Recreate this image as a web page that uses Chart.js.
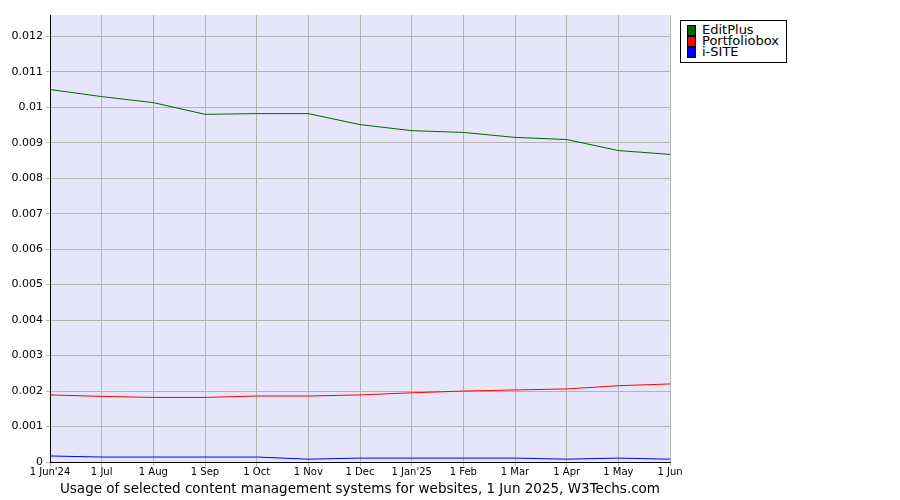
<!DOCTYPE html>
<html><head><meta charset="utf-8">
<script src="https://cdn.jsdelivr.net/npm/chart.js@4"></script>
<style>
body{margin:0;width:900px;height:500px;background:#fff;font-family:"DejaVu Sans",sans-serif;position:relative;overflow:hidden}
#wrap{position:absolute;left:0;top:0;width:900px;height:500px}
#legend{position:absolute;left:680px;top:20px;width:107px;height:43px;border:1px solid #000;background:#fff;font-size:13px;line-height:11px}
#legend div{position:relative;padding-left:21px;height:11px;margin-top:0}
#legend span{position:absolute;left:6px;top:1px;width:7px;height:9px;border:1px solid #000}
#cap{position:absolute;left:0;width:720px;top:480px;text-align:center;font-size:13.5px}
</style></head><body>
<div id="wrap"><canvas id="c" width="900" height="500"></canvas></div>
<div id="legend" style="padding-top:3px;box-sizing:border-box">
<div><span style="background:#006400"></span>EditPlus</div>
<div><span style="background:#ff0000"></span>Portfoliobox</div>
<div><span style="background:#0000ff"></span>i-SITE</div>
</div>
<div id="cap">Usage of selected content management systems for websites, 1 Jun 2025, W3Techs.com</div>
<script>
const categories=["1 Jun'24","1 Jul","1 Aug","1 Sep","1 Oct","1 Nov","1 Dec","1 Jan'25","1 Feb","1 Mar","1 Apr","1 May","1 Jun"];
const editPlus=[0.0105,0.0103,0.01013,0.0098,0.00982,0.00982,0.00951,0.00934,0.00929,0.00915,0.00909,0.00878,0.00867];
const portfoliobox=[0.00189,0.00185,0.00182,0.00182,0.00186,0.00186,0.00189,0.00195,0.002,0.00203,0.00206,0.00215,0.0022];
const iSite=[0.00017,0.00014,0.00014,0.00014,0.00014,0.00008,0.00011,0.00011,0.00011,0.00011,0.00008,0.00011,0.00008];
const yTicks=[0,0.001,0.002,0.003,0.004,0.005,0.006,0.007,0.008,0.009,0.01,0.011,0.012];
const bg={id:'bg',beforeDraw(ch){const a=ch.chartArea,x=ch.ctx;x.save();x.fillStyle='#e6e6fa';x.fillRect(a.left,a.top,a.right-a.left,a.bottom-a.top);x.restore();}};
const ds=(l,d,c)=>({label:l,data:d,borderColor:c,borderWidth:1,pointRadius:0,tension:0,fill:false});
new Chart(document.getElementById('c'),{type:'line',
data:{labels:categories,datasets:[ds('EditPlus',editPlus,'#006400'),ds('Portfoliobox',portfoliobox,'#ff0000'),ds('i-SITE',iSite,'#0000ff')]},
options:{responsive:false,animation:false,
layout:{padding:{left:0,right:230,top:15,bottom:0}},
plugins:{legend:{display:false},tooltip:{enabled:false}},
scales:{
x:{offset:false,grid:{color:'#b4b4b4',drawTicks:true,tickLength:4},border:{color:'#000'},
ticks:{color:'#000',font:{family:'DejaVu Sans',size:10},maxRotation:0,autoSkip:false,padding:0},
afterFit(s){s.height=38;}},
y:{min:0,max:0.0126,grid:{color:'#b4b4b4',tickLength:4},border:{color:'#000'},
afterBuildTicks(s){s.ticks=yTicks.map(v=>({value:v}));},
ticks:{color:'#000',font:{family:'DejaVu Sans',size:11},callback:v=>String(+v.toFixed(3))},
afterFit(s){s.width=50;}}
}},plugins:[bg]});
</script></body></html>
